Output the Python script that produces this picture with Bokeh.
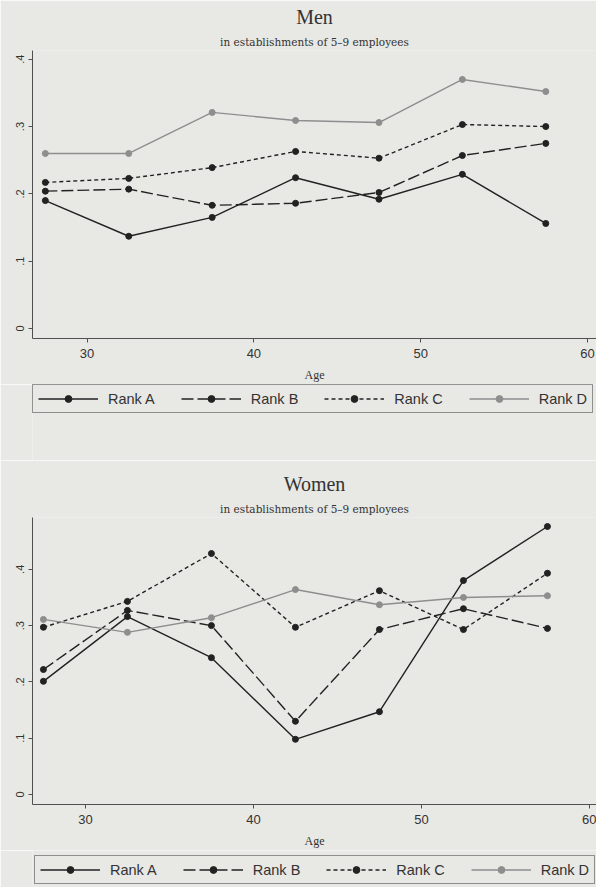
from bokeh.plotting import figure
from bokeh.models import Range1d, FixedTicker, Legend, LegendItem, Title
from bokeh.layouts import column
from bokeh.embed import file_html
from bokeh.resources import INLINE

# ---- data ----
ages = [27.5, 32.5, 37.5, 42.5, 47.5, 52.5, 57.5]
series_names = ["Rank A", "Rank B", "Rank C", "Rank D"]

men_rank_a = [0.190, 0.137, 0.165, 0.224, 0.192, 0.229, 0.156]
men_rank_b = [0.204, 0.207, 0.183, 0.186, 0.202, 0.257, 0.275]
men_rank_c = [0.217, 0.223, 0.239, 0.263, 0.253, 0.303, 0.300]
men_rank_d = [0.260, 0.260, 0.321, 0.309, 0.306, 0.370, 0.352]

women_rank_a = [0.201, 0.316, 0.243, 0.098, 0.147, 0.380, 0.476]
women_rank_b = [0.222, 0.327, 0.300, 0.130, 0.293, 0.330, 0.295]
women_rank_c = [0.297, 0.343, 0.428, 0.297, 0.362, 0.293, 0.393]
women_rank_d = [0.311, 0.288, 0.314, 0.364, 0.337, 0.350, 0.353]

x_ticks = [30, 40, 50, 60]
y_ticks = [0, 0.1, 0.2, 0.3, 0.4]
y_tick_labels = ["0", ".1", ".2", ".3", ".4"]

subtitle_text = "in establishments of 5\u20139 employees"

# ---- styling ----
BG = "#e8e8e5"
DARK = "#222222"
GRAY = "#8e8e8e"
AXIS = "#505050"
styles = [
    dict(color=DARK, dash="solid", width=1.4),
    dict(color=DARK, dash="12 4", width=1.4),
    dict(color=DARK, dash="4 3", width=1.4),
    dict(color=GRAY, dash="solid", width=1.4),
]


def add_series(p, series, visible=True):
    items = []
    for name, vals, st in zip(series_names, series, styles):
        ln = p.line(ages, vals, line_color=st["color"], line_width=st["width"],
                    line_dash=st["dash"], visible=visible)
        dots = p.scatter(ages, vals, size=6, fill_color=st["color"],
                         line_color=st["color"], visible=visible)
        items.append(LegendItem(label=name, renderers=[ln, dots]))
    return items


def make_chart(title, series, height, border_left, border_top, x_range, y_range):
    p = figure(width=596, height=height, output_backend="svg",
               toolbar_location=None, title=title,
               x_range=Range1d(*x_range), y_range=Range1d(*y_range),
               min_border_left=border_left, min_border_right=0,
               min_border_top=border_top, min_border_bottom=46,
               background_fill_color=BG, border_fill_color=BG,
               outline_line_color=None)
    p.title.align = "center"
    p.title.text_font = "Liberation Serif"
    p.title.text_font_size = "20px"
    p.title.text_font_style = "normal"
    p.title.text_color = "#333333"
    p.title.standoff = 6

    p.add_layout(Title(text=subtitle_text, align="center",
                       text_font="DejaVu Serif", text_font_size="10.5px",
                       text_font_style="normal", text_color="#333333",
                       standoff=6), "above")

    p.xgrid.visible = False
    p.ygrid.visible = False
    add_series(p, series)

    for ax in (p.xaxis[0], p.yaxis[0]):
        ax.axis_line_color = AXIS
        ax.axis_line_width = 1
        ax.major_tick_line_color = AXIS
        ax.major_tick_out = 4
        ax.major_tick_in = 0
        ax.minor_tick_line_color = None
        ax.major_label_text_color = "#333333"

    p.xaxis.ticker = FixedTicker(ticks=x_ticks)
    p.xaxis.major_label_text_font = "Liberation Sans"
    p.xaxis.major_label_text_font_size = "13px"
    p.xaxis.major_label_standoff = 6
    p.xaxis.axis_label = "Age"
    p.xaxis.axis_label_text_font = "Liberation Serif"
    p.xaxis.axis_label_text_font_size = "12px"
    p.xaxis.axis_label_text_font_style = "normal"
    p.xaxis.axis_label_text_color = "#333333"
    p.xaxis.axis_label_standoff = 7

    p.yaxis.ticker = FixedTicker(ticks=y_ticks)
    p.yaxis.major_label_overrides = {t: l for t, l in zip(y_ticks, y_tick_labels)}
    p.yaxis.major_label_orientation = "vertical"
    p.yaxis.major_label_text_font = "Liberation Sans"
    p.yaxis.major_label_text_font_size = "11px"
    p.yaxis.major_label_standoff = 4
    return p


def make_legend(series, height, loc):
    p = figure(width=596, height=height, output_backend="svg",
               toolbar_location=None, x_axis_location=None, y_axis_location=None,
               min_border_left=0, min_border_right=0,
               min_border_top=0, min_border_bottom=0,
               background_fill_color=BG, border_fill_color=BG,
               outline_line_color=None)
    p.xgrid.visible = False
    p.ygrid.visible = False
    items = add_series(p, series, visible=False)
    legend = Legend(items=items, orientation="horizontal", location=loc,
                    border_line_color="#333333", border_line_width=1,
                    background_fill_alpha=0, inactive_fill_alpha=0,
                    glyph_width=60, glyph_height=17,
                    label_text_font="Liberation Sans", label_text_font_size="14.5px",
                    label_text_color="#333333", label_standoff=10,
                    padding=5, spacing=26, margin=0)
    p.add_layout(legend)
    return p


men_series = [men_rank_a, men_rank_b, men_rank_c, men_rank_d]
women_series = [women_rank_a, women_rank_b, women_rank_c, women_rank_d]

men = make_chart("Men", men_series, height=384, border_left=28, border_top=50,
                 x_range=(26.73, 60.54), y_range=(-0.0149, 0.413))
men_legend = make_legend(men_series, height=76, loc=(0, 47))
women = make_chart("Women", women_series, height=390, border_left=32, border_top=57,
                   x_range=(26.85, 60.42), y_range=(-0.0178, 0.492))
women_legend = make_legend(women_series, height=37, loc=(2, 3))

layout = column(men, men_legend, women, women_legend, spacing=0)
open("out.html", "w").write(file_html(layout, INLINE))
